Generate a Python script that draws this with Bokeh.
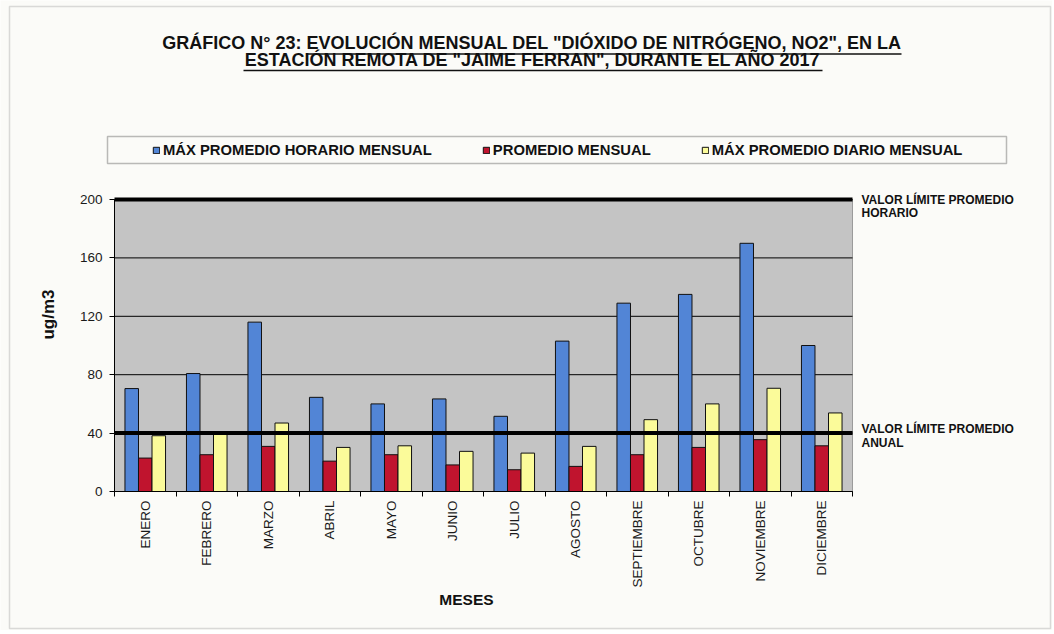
import math
from bokeh.plotting import figure
from bokeh.models import (Range1d, FixedTicker, Label, BoxAnnotation,
                          Legend, LegendItem, ColumnDataSource)
from bokeh.transform import dodge
from bokeh.embed import file_html
from bokeh.resources import INLINE

# ---------------- data ----------------
MESES = ["ENERO", "FEBRERO", "MARZO", "ABRIL", "MAYO", "JUNIO", "JULIO",
         "AGOSTO", "SEPTIEMBRE", "OCTUBRE", "NOVIEMBRE", "DICIEMBRE"]
MAX_HORARIO = [70.5, 80.8, 116, 64.5, 60, 63.4, 51.5, 103, 129, 135, 170, 100]
PROMEDIO = [22.9, 25.2, 30.9, 20.8, 25.2, 18.2, 14.9, 17.2, 25.2, 30.2, 35.5, 31.3]
MAX_DIARIO = [38.2, 40.5, 46.9, 30.2, 31.3, 27.5, 26.3, 30.9, 49.2, 60, 70.7, 53.8]
LIMITE_HORARIO = 200
LIMITE_ANUAL = 40
Y_TICKS = [0, 40, 80, 120, 160, 200]
SERIES = ["MÁX PROMEDIO HORARIO MENSUAL", "PROMEDIO MENSUAL", "MÁX PROMEDIO DIARIO MENSUAL"]

TITLE_1 = 'GRÁFICO N° 23: EVOLUCIÓN MENSUAL DEL "DIÓXIDO DE NITRÓGENO, NO2", EN LA'
TITLE_2 = 'ESTACIÓN REMOTA DE "JAIME FERRAN", DURANTE EL AÑO 2017'

n = len(MESES)
x_centers = [i + 0.5 for i in range(n)]
source = ColumnDataSource(dict(x=x_centers, mes=MESES, max_horario=MAX_HORARIO,
                               promedio=PROMEDIO, max_diario=MAX_DIARIO))

# ---------------- geometry (canvas pixels, origin top-left) ----------------
W, H = 1052, 630
PL, PR, PT, PB = 114, 852, 199, 491          # plot-area edges on the canvas
YMAX = max(Y_TICKS)
px_x = (PR - PL) / n
px_y = (PB - PT) / YMAX
x_range = Range1d(-PL / px_x, n + (W - PR) / px_x)
y_range = Range1d(-(H - PB) / px_y, YMAX + PT / px_y)


def up(y):
    """canvas y (top-down) -> screen y (bottom-up)"""
    return H - y


def base(y, fs):
    """label y so that the alphabetic baseline lands on canvas y"""
    return H - (y - 0.4 * fs)


BLUE = "#5285d6"
RED = "#c0142e"
YELLOW = "#fbfb9a"
GRAY = "#c4c4c4"
PAPER = "#fbfbf8"
INK = "#111111"
FONT = "Liberation Sans"

p = figure(width=W, height=H, title=None, x_range=x_range, y_range=y_range,
           output_backend="svg", toolbar_location=None,
           min_border=0, background_fill_color=PAPER, border_fill_color=PAPER,
           outline_line_color=None)
p.grid.visible = False

# plot area
p.add_layout(BoxAnnotation(left=0, right=n, bottom=0, top=YMAX, level="underlay",
                           fill_color=GRAY, fill_alpha=1, line_color="black", line_width=1))

# gridlines
p.segment(x0=0, x1=n, y0=Y_TICKS, y1=Y_TICKS, line_color="black", line_width=1)

BW = 0.22
r1 = p.vbar(x=dodge("x", -BW, range=p.x_range), top="max_horario", width=BW,
            source=source, fill_color=BLUE, line_color=INK, line_width=1)
r2 = p.vbar(x="x", top="promedio", width=BW, source=source,
            fill_color=RED, line_color=INK, line_width=1)
r3 = p.vbar(x=dodge("x", BW, range=p.x_range), top="max_diario", width=BW,
            source=source, fill_color=YELLOW, line_color=INK, line_width=1)

# limit lines
LIMITES = [LIMITE_HORARIO, LIMITE_ANUAL]
p.segment(x0=0, x1=n, y0=LIMITES, y1=LIMITES, line_color="black", line_width=4)

# axes (fixed at the plot-area origin)
xa = p.xaxis[0]
xa.fixed_location = 0
xa.bounds = (0, n)
xa.ticker = FixedTicker(ticks=x_centers, minor_ticks=list(range(n + 1)))
xa.major_label_overrides = {xc: m for xc, m in zip(x_centers, MESES)}
xa.major_tick_line_color = None
xa.major_tick_out = 5
xa.minor_tick_out = 5
xa.minor_tick_in = 0
xa.minor_tick_line_color = "black"
xa.major_label_orientation = math.pi / 2
xa.major_label_standoff = 4
xa.axis_line_color = "black"
xa.major_label_text_font = FONT
xa.major_label_text_font_size = "13.5px"
xa.major_label_text_color = "#1a1a1a"

ya = p.yaxis[0]
ya.fixed_location = 0
ya.bounds = (0, YMAX)
ya.ticker = FixedTicker(ticks=Y_TICKS, minor_ticks=[])
ya.major_tick_out = 5
ya.major_tick_in = 0
ya.major_tick_line_color = "black"
ya.minor_tick_line_color = None
ya.major_label_standoff = 7
ya.axis_line_color = "black"
ya.major_label_text_font = FONT
ya.major_label_text_font_size = "13.5px"
ya.major_label_text_color = "#1a1a1a"

# legend
legend = Legend(items=[LegendItem(label=SERIES[0], renderers=[r1]),
                       LegendItem(label=SERIES[1], renderers=[r2]),
                       LegendItem(label=SERIES[2], renderers=[r3])],
                orientation="horizontal", location=(152, up(158)),
                padding=0, margin=0, spacing=50, label_standoff=3,
                glyph_width=8, glyph_height=8, label_height=14,
                border_line_color=None, background_fill_alpha=0,
                label_text_font=FONT, label_text_font_size="14.8px",
                label_text_font_style="bold", label_text_color=INK)
p.add_layout(legend)
p.add_layout(BoxAnnotation(left=107, right=1006, bottom=up(163), top=up(136),
                           left_units="screen", right_units="screen",
                           bottom_units="screen", top_units="screen",
                           fill_alpha=0, line_color="#222222", line_width=1.5))

# titles
TFS = 18
p.add_layout(Label(x=531.5, y=base(50, TFS), x_units="screen", y_units="screen",
                   text=TITLE_1, text_align="center", text_baseline="alphabetic",
                   text_font=FONT, text_font_size=f"{TFS}px", text_font_style="bold",
                   text_color=INK))
p.add_layout(Label(x=532.5, y=base(67, TFS), x_units="screen", y_units="screen",
                   text=TITLE_2, text_align="center", text_baseline="alphabetic",
                   text_font=FONT, text_font_size=f"{TFS}px", text_font_style="bold",
                   text_color=INK))
for (l, r, yy) in ((306, 901, 53.5), (243, 822, 70)):
    p.add_layout(BoxAnnotation(left=l, right=r, bottom=up(yy + 0.8), top=up(yy - 0.8),
                               left_units="screen", right_units="screen",
                               bottom_units="screen", top_units="screen",
                               fill_color=INK, fill_alpha=1, line_color=None))

# axis titles
p.add_layout(Label(x=47.5, y=up(314), x_units="screen", y_units="screen", text="ug/m3",
                   angle=math.pi / 2, text_align="center", text_baseline="middle",
                   text_font=FONT, text_font_size="17px", text_font_style="bold",
                   text_color=INK))
p.add_layout(Label(x=466, y=up(598.5), x_units="screen", y_units="screen", text="MESES",
                   text_align="center", text_baseline="middle",
                   text_font=FONT, text_font_size="15.5px",
                   text_font_style="bold", text_color=INK))

# limit labels
LFS = 12
for txt, yy in (("VALOR LÍMITE PROMEDIO", 204), ("HORARIO", 217),
                ("VALOR LÍMITE PROMEDIO", 433), ("ANUAL", 447)):
    p.add_layout(Label(x=861, y=base(yy, LFS), x_units="screen", y_units="screen",
                       text=txt, text_align="left", text_baseline="alphabetic",
                       text_font=FONT, text_font_size=f"{LFS}px", text_font_style="bold",
                       text_color=INK))

# outer frame of the chart area
p.add_layout(BoxAnnotation(left=9, right=W - 2, top=6, bottom=H - 2,
                           left_units="canvas", right_units="canvas",
                           top_units="canvas", bottom_units="canvas",
                           fill_alpha=0, line_color="#8a8a8a", line_width=1.5))

open("out.html", "w").write(file_html(p, INLINE))
